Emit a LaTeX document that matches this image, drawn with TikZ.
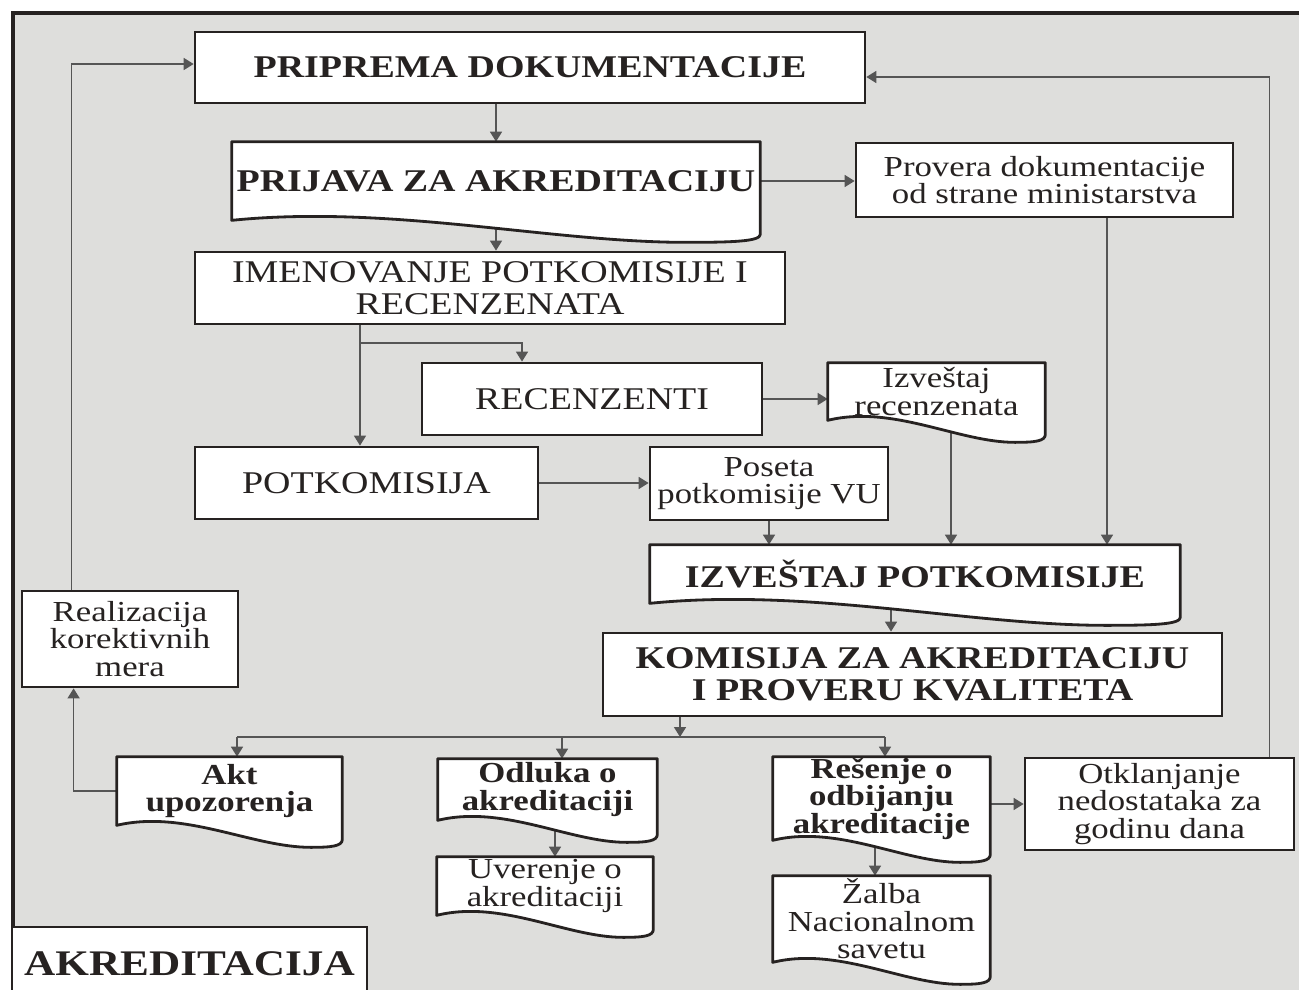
\documentclass[tikz,border=0pt]{standalone}
\usepackage{fontspec}
\setmainfont{Liberation Serif}[FakeStretch=1.2]
\usetikzlibrary{arrows.meta, calc, positioning}
\definecolor{panelgray}{RGB}{222,222,220}
\definecolor{inkdark}{RGB}{38,34,33}
\definecolor{linegray}{RGB}{85,85,85}
\pgfdeclarelayer{panel}
\pgfdeclarelayer{lines}
\pgfdeclarelayer{shapes}
\pgfsetlayers{panel,lines,shapes,main}

\tikzset{
  box/.style={draw=inkdark, line width=1.6pt, fill=white, text=inkdark, align=center, inner sep=0pt},
  docbox/.style={draw=none, fill=none, text=inkdark, align=center, inner sep=0pt},
  docline/.style={draw=inkdark, line width=1.6pt, fill=white, line join=round},
  bigbold/.style={font=\fontsize{18}{18.5}\selectfont\bfseries},
  big/.style={font=\fontsize{18}{18.5}\selectfont},
  small/.style={font=\fontsize{16.5}{15.6}\selectfont},
  smallbold/.style={font=\fontsize{16.5}{15.6}\selectfont\bfseries},
  conn/.style={draw=linegray, line width=0.9pt, -{Triangle[length=0.2cm,width=0.24cm]}},
  busline/.style={draw=linegray, line width=0.9pt},
}

\begin{document}
\begin{tikzpicture}[x=0.02cm, y=-0.02cm]
    \useasboundingbox (0,0) rectangle (1299,990);

    % panel
    \begin{pgfonlayer}{panel}
    \fill[panelgray] (13,13) rectangle (1310,1000);
    \draw[inkdark, line width=2.2pt] (13,1000) -- (13,13) -- (1310,13);
    \end{pgfonlayer}

    % boxes
    \node[box, bigbold, minimum width=13.4cm, minimum height=1.42cm] (prip) at (530,67.5) {PRIPREMA DOKUMENTACIJE};
    \node[docbox, bigbold, minimum width=10.56cm, minimum height=1.56cm] (prijava) at (496,181) {PRIJAVA ZA AKREDITACIJU};
    \node[box, small, minimum width=7.54cm, minimum height=1.48cm] (provera) at (1044.5,180) {Provera dokumentacije\\od strane ministarstva};
    \node[box, big, minimum width=11.8cm, minimum height=1.44cm] (imen) at (490,288) {IMENOVANJE POTKOMISIJE I\\RECENZENATA};
    \node[box, big, minimum width=6.8cm, minimum height=1.44cm] (recenz) at (592,399) {RECENZENTI};
    \node[docbox, small, minimum width=4.34cm, minimum height=1.14cm] (izvrec) at (936.5,391.5) {Izveštaj\\recenzenata};
    \node[box, big, minimum width=6.86cm, minimum height=1.44cm] (potk) at (366.5,483) {POTKOMISIJA};
    \node[box, small, minimum width=4.76cm, minimum height=1.46cm] (poseta) at (769,483.5) {Poseta\\potkomisije VU};
    \node[docbox, bigbold, minimum width=10.6cm, minimum height=1.16cm] (izvpot) at (915,574) {IZVEŠTAJ POTKOMISIJE};
    \node[box, bigbold, minimum width=12.38cm, minimum height=1.66cm] (komisija) at (912.5,674.5) {KOMISIJA ZA AKREDITACIJU\\I PROVERU KVALITETA};
    \node[box, small, minimum width=4.32cm, minimum height=1.92cm] (realiz) at (130,639) {Realizacija\\korektivnih\\mera};
    \node[docbox, smallbold, minimum width=4.5cm, minimum height=1.36cm] (akt) at (229.5,791) {Akt\\upozorenja};
    \node[docbox, smallbold, minimum width=4.38cm, minimum height=1.22cm] (odluka) at (547.5,789.5) {Odluka o\\akreditaciji};
    \node[docbox, small, minimum width=4.32cm, minimum height=1.16cm] (uverenje) at (545,886) {Uverenje o\\akreditaciji};
    \node[docbox, smallbold, minimum width=4.34cm, minimum height=1.66cm] (resenje) at (881.5,798.5) {Rešenje o\\odbijanju\\akreditacije};
    \node[box, small, minimum width=5.38cm, minimum height=1.84cm] (otkl) at (1159.5,804) {Otklanjanje\\nedostataka za\\godinu dana};
    \node[docbox, small, minimum width=4.34cm, minimum height=1.72cm] (zalba) at (881.5,919) {Žalba\\Nacionalnom\\savetu};
    \node[box, font=\fontsize{20.5}{20.5}\selectfont\bfseries, minimum width=7.1cm, minimum height=1.46cm] (akred) at (189.5,963.5) {AKREDITACIJA};

    % document outlines with wavy bottom
    \begin{pgfonlayer}{shapes}
    \foreach \n in {prijava,izvrec,izvpot,akt,odluka,uverenje,resenje,zalba}
      \draw[docline] (\n.north west) -- (\n.north east) -- ($(\n.south east)+(0,14)$)
        .. controls ($(\n.south east)+(0,21)$) and ($(\n.south west)!0.95!(\n.south east)+(0,22)$) .. ($(\n.south west)!0.86!(\n.south east)+(0,22)$)
        .. controls ($(\n.south west)!0.6!(\n.south east)+(0,22)$) and ($(\n.south west)!0.3!(\n.south east)+(0,-16)$) .. (\n.south west) -- cycle;
    \end{pgfonlayer}

    % connectors
    \coordinate (split) at (360,343);
    \coordinate (bus) at (680,737);
    \coordinate (busA) at (237,737);
    \coordinate (busO) at (562,737);
    \coordinate (busR) at (885,737);
    \begin{pgfonlayer}{lines}
    \draw[conn] (prip.south -| prijava.north) -- (prijava.north);
    \draw[conn] (prijava.east) -- (prijava.east -| provera.west);
    \draw[conn] (prijava.south) -- (prijava.south |- imen.north);
    \draw[conn] (imen.south -| split) -- (split |- potk.north);
    \draw[conn] (split) -| ([xshift=-1.4cm]recenz.north);
    \draw[conn] (recenz.east) -- (recenz.east -| izvrec.west);
    \draw[conn] (potk.east) -- (potk.east -| poseta.west);
    \draw[conn] (poseta.south) -- (poseta.south |- izvpot.north);
    \draw[conn] ([xshift=0.29cm]izvrec.south) -- ([xshift=0.29cm]izvrec.south |- izvpot.north);
    \draw[conn] ([xshift=1.25cm]provera.south) -- ([xshift=1.25cm]provera.south |- izvpot.north);
    \draw[conn] ([xshift=-0.48cm]izvpot.south) -- ([xshift=-0.48cm]izvpot.south |- komisija.north);
    \draw[conn] (bus |- komisija.south) -- (bus);
    \draw[busline] (busA) -- (busR);
    \draw[conn] (busA) -- (busA |- akt.north);
    \draw[conn] (busO) -- (busO |- odluka.north);
    \draw[conn] (busR) -- (busR |- resenje.north);
    \draw[conn] ([xshift=0.15cm]odluka.south) -- ([xshift=0.15cm]odluka.south |- uverenje.north);
    \draw[conn] ([xshift=-0.13cm]resenje.south) -- ([xshift=-0.13cm]resenje.south |- zalba.north);
    \draw[conn] (otkl.west -| resenje.east) -- (otkl.west);
    \draw[conn] ([xshift=-0.52cm]otkl.north east) |- ([yshift=-0.19cm]prip.east);
    \draw[conn] ([xshift=1.02cm]realiz.north west) |- ([yshift=0.07cm]prip.west);
    \draw[conn] (akt.west) -| ([xshift=1.06cm]realiz.south west);
    \end{pgfonlayer}
\end{tikzpicture}
\end{document}
